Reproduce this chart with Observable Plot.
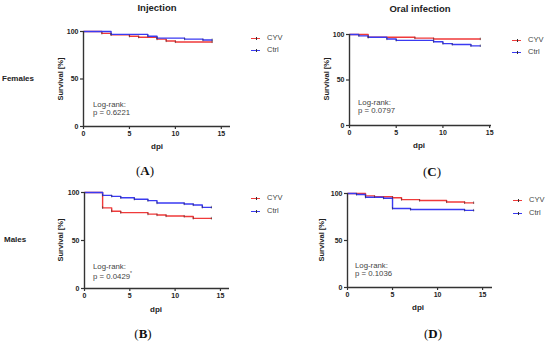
<!DOCTYPE html>
<html><head><meta charset="utf-8">
<script src="https://cdn.jsdelivr.net/npm/d3@7"></script>
<script src="https://cdn.jsdelivr.net/npm/@observablehq/plot@0.6"></script>
<style>
body{margin:0;background:#fff;width:550px;height:344px;overflow:hidden;position:relative;font-family:"Liberation Sans",Arial,sans-serif;}
.abs{position:absolute;white-space:nowrap;line-height:1;}
.b{font-weight:bold;color:#222;}
.title{font-size:9.5px;transform:translate(-50%,-50%);}
.row{font-size:8px;transform:translateY(-50%);}
.ylab{font-size:7.5px;transform:translate(-50%,-50%) rotate(-90deg);}
.xlab{font-size:8px;transform:translate(-50%,-50%);}
.note{font-size:7.8px;color:#444;}
.pl{font-family:"Liberation Serif","Times New Roman",serif;font-size:13px;color:#111;transform:translate(-50%,-50%);}
.pl b{font-weight:bold;}
.leg{font-size:7.5px;color:#444;transform:translateY(-50%);}
.sw{position:absolute;height:0;border-top:1.4px solid;}
.sw i{position:absolute;left:50%;top:-2px;height:2.5px;border-left:0.8px solid #333;}
.panel{position:absolute;}
</style></head><body>
<script>
// ---- data (days post infection, survival %) ----
const days_A_CYV  = [0, 2, 3, 5, 6, 8, 9, 10, 14];
const surv_A_CYV  = [100, 98, 96.5, 95, 94, 92, 90, 89, 89];
const days_A_Ctrl = [0, 3, 7, 8, 11, 13, 14];
const surv_A_Ctrl = [100, 97, 95, 93, 92, 91, 91];

const days_C_CYV  = [0, 2, 7, 9, 14];
const surv_C_CYV  = [100, 97, 96, 95, 95];
const days_C_Ctrl = [0, 1, 2, 4, 5, 9, 10, 11, 13, 14];
const surv_C_Ctrl = [100, 98.5, 97, 95, 93.5, 92, 90, 89, 87.5, 87.5];

const days_B_CYV  = [0, 2, 3, 4, 7, 8, 9, 11, 12, 14];
const surv_B_CYV  = [100, 84, 80.5, 79, 77.5, 76.5, 75.5, 75, 73, 73];
const days_B_Ctrl = [0, 2, 3, 4, 5.5, 7, 8, 11, 12, 13, 14];
const surv_B_Ctrl = [100, 97, 96, 94.5, 93, 91.5, 89, 88, 87, 84.5, 84.5];

const days_D_CYV  = [0, 2, 3, 5, 6, 8, 11, 13, 14];
const surv_D_CYV  = [100, 97.5, 96.5, 95.5, 93.5, 92.5, 91, 90, 90];
const days_D_Ctrl = [0, 1, 2, 4, 5, 7, 13, 14];
const surv_D_Ctrl = [100, 99, 96, 95, 84, 83, 82, 82];

const groups = ["CYV", "Ctrl"];
const colors = ["#f03a3a", "#3a3af2"];
const xTicks = [0, 5, 10, 15];
const yTicks = [0, 50, 100];
const pValues = ["p = 0.6221", "p = 0.0797", "p = 0.0429", "p = 0.1036"];

function series(days, surv, g){ return days.map((d,i)=>({day:d, surv:surv[i], group:g})); }

const panels = [
  {key:"A", left:40, top:20, ml:43, pw:147, mt:11, ph:95, xmax:16,
   data:[series(days_A_CYV,surv_A_CYV,"CYV"), series(days_A_Ctrl,surv_A_Ctrl,"Ctrl")]},
  {key:"C", left:300, top:20, ml:49, pw:142, mt:14, ph:91, xmax:15.2,
   data:[series(days_C_CYV,surv_C_CYV,"CYV"), series(days_C_Ctrl,surv_C_Ctrl,"Ctrl")]},
  {key:"B", left:40, top:180, ml:44, pw:145, mt:12, ph:96, xmax:16,
   data:[series(days_B_CYV,surv_B_CYV,"CYV"), series(days_B_Ctrl,surv_B_Ctrl,"Ctrl")]},
  {key:"D", left:300, top:180, ml:47, pw:145, mt:13, ph:94, xmax:16.1,
   data:[series(days_D_CYV,surv_D_CYV,"CYV"), series(days_D_Ctrl,surv_D_Ctrl,"Ctrl")]}
];

for (const p of panels) {
  const all = p.data.flat();
  const censor = all.filter(d => d.day > 0);
  const chart = Plot.plot({
    width: p.ml + p.pw + 6,
    height: p.mt + p.ph + 20,
    marginLeft: p.ml, marginRight: 6, marginTop: p.mt, marginBottom: 20,
    style: {fontFamily: '"Liberation Sans", Arial, sans-serif', fontSize: "7px", fontWeight: "bold", color: "#222", background: "transparent", overflow: "visible"},
    x: {domain: [0, p.xmax]},
    y: {domain: [0, 100]},
    color: {domain: groups, range: colors},
    marks: [
      Plot.line(all, {x: "day", y: "surv", z: "group", stroke: "group", curve: "step-after", strokeWidth: 1.4}),
      Plot.link(censor, {x1: "day", x2: "day", y1: d => d.surv - 1.2, y2: d => d.surv + 1.6, stroke: "#333", strokeWidth: 0.7, strokeOpacity: 0.8}),
      Plot.ruleY([0], {stroke: "#333", strokeWidth: 1.4}),
      Plot.ruleX([0], {stroke: "#333", strokeWidth: 1.4}),
      Plot.axisX({ticks: xTicks, tickSize: 3, tickPadding: 2, label: null, stroke: "#333", strokeWidth: 1.2}),
      Plot.axisY({ticks: yTicks, tickSize: 3, tickPadding: 2, label: null, stroke: "#333", strokeWidth: 1.2})
    ]
  });
  const div = document.createElement("div");
  div.className = "panel";
  div.style.left = p.left + "px";
  div.style.top = p.top + "px";
  div.appendChild(chart);
  document.body.appendChild(div);
}

function txt(cls, x, y, html){
  const e = document.createElement("div");
  e.className = "abs " + cls;
  e.style.left = x + "px"; e.style.top = y + "px";
  e.innerHTML = html;
  document.body.appendChild(e);
}
function legend(x, y, color, label){
  const s = document.createElement("div");
  s.className = "sw";
  s.style.left = x + "px"; s.style.top = y + "px"; s.style.width = "9px"; s.style.borderColor = color;
  s.innerHTML = "<i></i>";
  document.body.appendChild(s);
  txt("leg", x + 16, y, label);
}

txt("b title", 157, 8, "Injection");
txt("b title", 420, 9, "Oral infection");
txt("b row", 2, 79, "Females");
txt("b row", 4, 240, "Males");

txt("b ylab", 61, 79, "Survival [%]");
txt("b ylab", 327, 79, "Survival [%]");
txt("b ylab", 61, 240, "Survival [%]");
txt("b ylab", 322, 240, "Survival [%]");

txt("b xlab", 157, 147, "dpi");
txt("b xlab", 419, 146, "dpi");
txt("b xlab", 156, 310, "dpi");
txt("b xlab", 418, 308, "dpi");

txt("note", 93, 101, "Log-rank:<br>" + pValues[0]);
txt("note", 358, 99, "Log-rank:<br>" + pValues[1]);
txt("note", 93, 263, "Log-rank:<br>" + pValues[2] + "<sup style='font-size:5px;vertical-align:4px'>*</sup>");
txt("note", 355, 262, "Log-rank:<br>" + pValues[3]);

txt("pl", 145, 170, "(<b>A</b>)");
txt("pl", 432, 171, "(<b>C</b>)");
txt("pl", 143, 333, "(<b>B</b>)");
txt("pl", 433, 333, "(<b>D</b>)");

legend(251, 38, colors[0], groups[0]);
legend(251, 50, colors[1], groups[1]);
legend(512, 40, colors[0], groups[0]);
legend(512, 52, colors[1], groups[1]);
legend(251, 198, colors[0], groups[0]);
legend(251, 211, colors[1], groups[1]);
legend(513, 200, colors[0], groups[0]);
legend(513, 213, colors[1], groups[1]);
</script>
</body></html>
